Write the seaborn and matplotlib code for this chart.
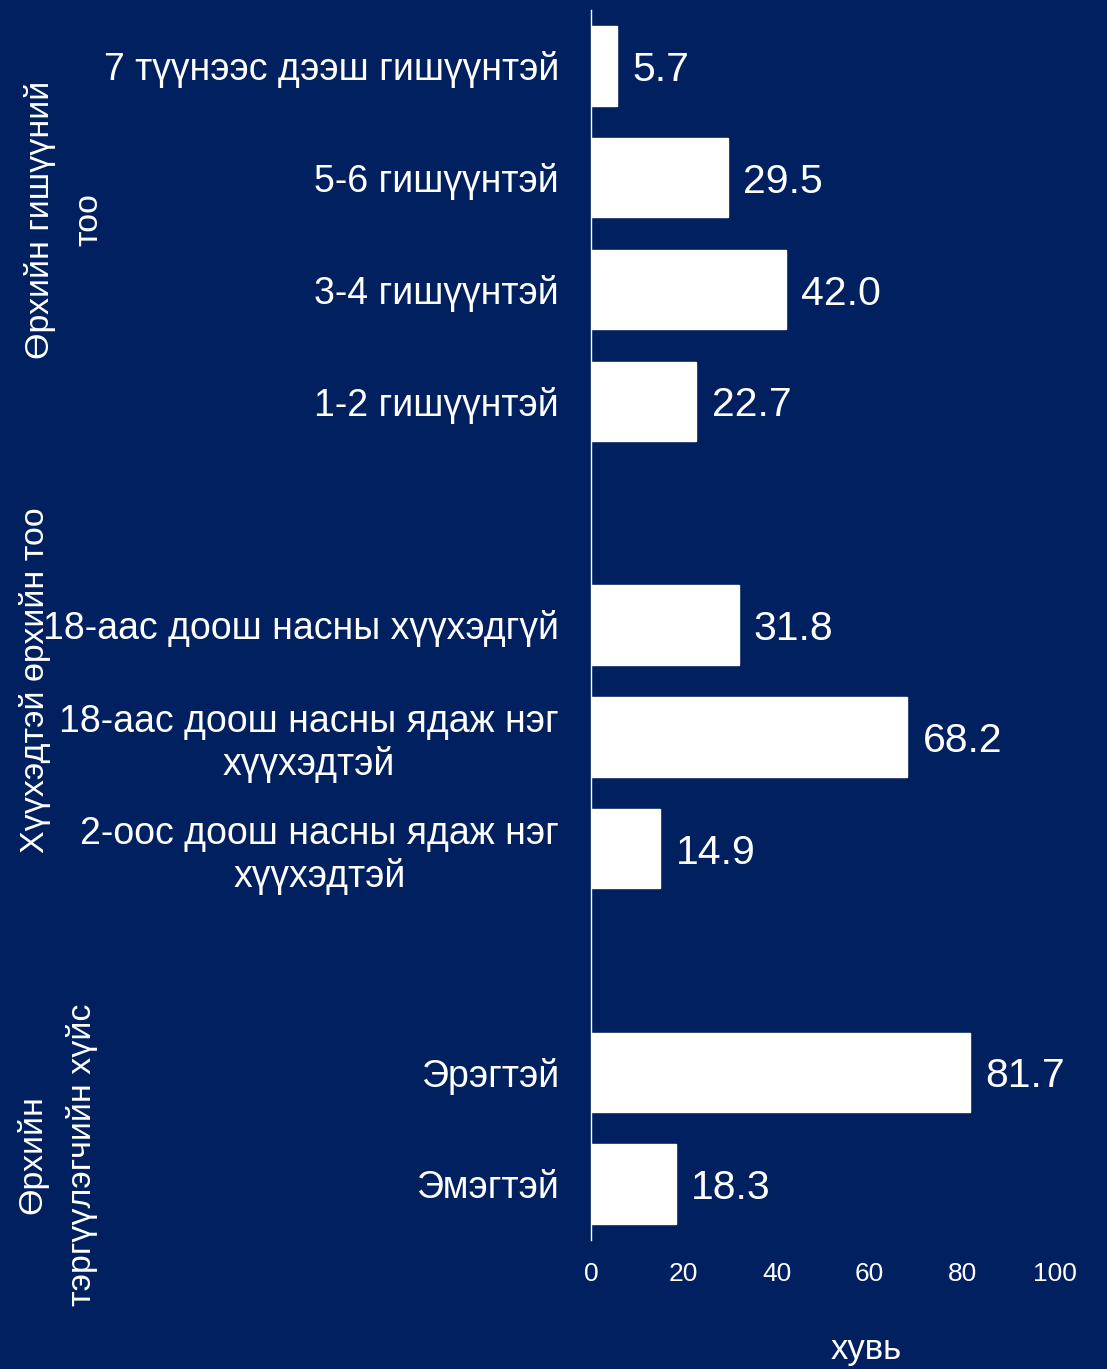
import numpy as np
import pandas as pd
import matplotlib
matplotlib.use("Agg")
import matplotlib.pyplot as plt
import seaborn as sns

# Chart data (top to bottom), blank slots separate the three groups
labels = ["7 түүнээс дээш гишүүнтэй", "5-6 гишүүнтэй", "3-4 гишүүнтэй", "1-2 гишүүнтэй",
          "18-аас доош насны хүүхэдгүй", "18-аас доош насны ядаж нэг\nхүүхэдтэй",
          "2-оос доош насны ядаж нэг\nхүүхэдтэй", "Эрэгтэй", "Эмэгтэй"]
values = [5.7, 29.5, 42.0, 22.7, 31.8, 68.2, 14.9, 81.7, 18.3]
order = labels[:4] + [" "] + labels[4:7] + ["  "] + labels[7:]
group_names = ["Өрхийн гишүүний\nтоо", "Хүүхэдтэй өрхийн тоо", "Өрхийн\nтэргүүлэгчийн хүйс"]
x_ticks = [0, 20, 40, 60, 80, 100]

bg = "#002060"
sns.set_style("white")
plt.rcParams["font.family"] = ["Liberation Sans", "DejaVu Sans"]

df = pd.DataFrame({"label": labels, "value": values})

fig = plt.figure(figsize=(11.07, 13.69), dpi=100, facecolor=bg)
ax = fig.add_axes([591 / 1107, 1 - 1240 / 1369, 464 / 1107, 1230 / 1369])
ax.set_facecolor(bg)

sns.barplot(data=df, x="value", y="label", order=order, color="white",
            saturation=1, width=0.71, errorbar=None, ax=ax)

# value labels at the end of each bar
for cont in ax.containers:
    anns = ax.bar_label(cont, fmt="%.1f", padding=11, fontsize=29.5, color="white")
    for a in anns:
        a.set_va("center_baseline")

ax.set_xlim(0, 100)
ax.set_ylim(len(order) - 0.5, -0.5)
ax.set_xticks(x_ticks)
ax.set_xticklabels([str(t) for t in x_ticks])
ax.tick_params(axis="x", length=0, pad=16, labelsize=19, labelcolor="white")
ax.tick_params(axis="y", length=0, pad=23, labelsize=27, labelcolor="white")
for lbl in ax.get_yticklabels():
    lbl.set_multialignment("center")
ax.set_xlabel("")
ax.set_ylabel("")

for side in ["top", "right", "bottom"]:
    ax.spines[side].set_visible(False)
ax.spines["left"].set_color("white")
ax.spines["left"].set_linewidth(1)

# group labels on the left
fig.text(64 / 1107, 1 - 220 / 1369, group_names[0], rotation=90, ha="center", va="center",
         multialignment="center", linespacing=1.7, fontsize=24.5, color="white")
fig.text(35 / 1107, 1 - 680 / 1369, group_names[1], rotation=90, ha="center", va="center",
         multialignment="center", fontsize=24.5, color="white")
fig.text(57 / 1107, 1 - 1155 / 1369, group_names[2], rotation=90, ha="center", va="center",
         multialignment="center", linespacing=1.7, fontsize=24.5, color="white")

fig.text(866 / 1107, 1 - 1350 / 1369, "хувь", ha="center", va="center", fontsize=25, color="white")

fig.savefig("out.png", dpi=100, facecolor=bg)
